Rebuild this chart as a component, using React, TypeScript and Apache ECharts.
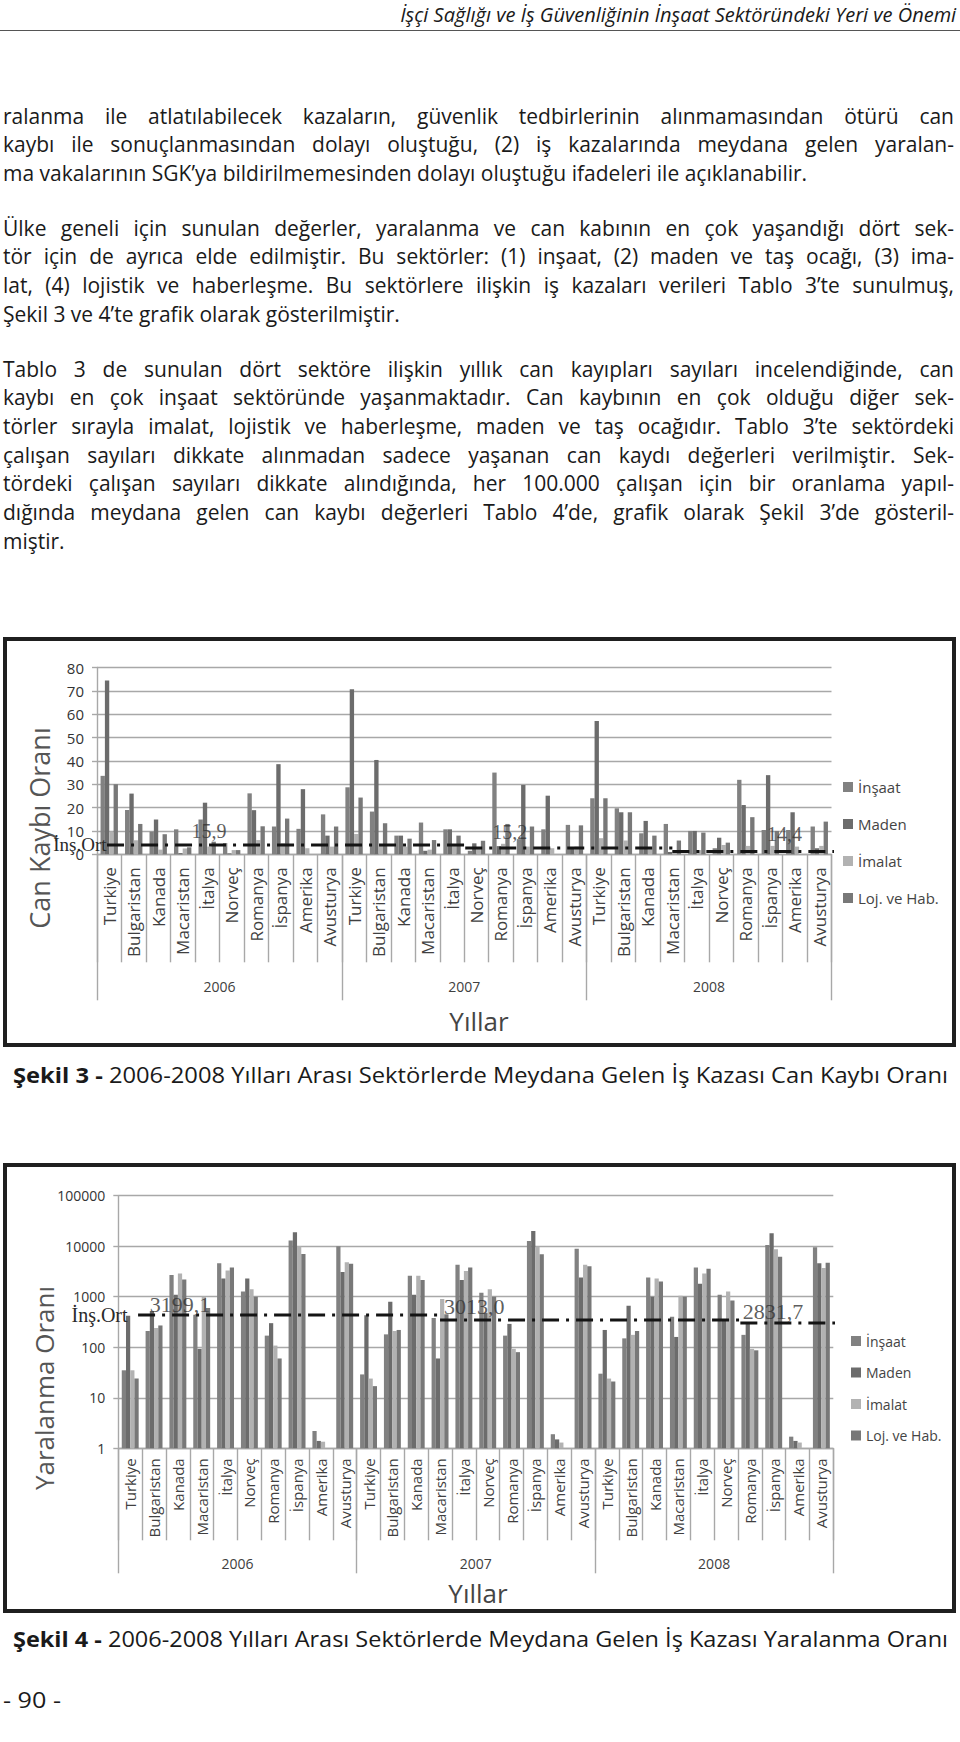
import React, { useEffect, useLayoutEffect, useRef } from "react";
import * as echarts from "echarts";

// ---------- page text ----------
const HEADER = "İşçi Sağlığı ve İş Güvenliğinin İnşaat Sektöründeki Yeri ve Önemi";
const PARAGRAPHS: string[][] = [
  [
    "ralanma ile atlatılabilecek kazaların, güvenlik tedbirlerinin alınmamasından ötürü can",
    "kaybı ile sonuçlanmasından dolayı oluştuğu, (2) iş kazalarında meydana gelen yaralan-",
    "ma vakalarının SGK’ya bildirilmemesinden dolayı oluştuğu ifadeleri ile açıklanabilir.",
  ],
  [
    "Ülke geneli için sunulan değerler, yaralanma ve can kabının en çok yaşandığı dört sek-",
    "tör için de ayrıca elde edilmiştir. Bu sektörler: (1) inşaat, (2) maden ve taş ocağı, (3) ima-",
    "lat, (4) lojistik ve haberleşme. Bu sektörlere ilişkin iş kazaları verileri Tablo 3’te sunulmuş,",
    "Şekil 3 ve 4’te grafik olarak gösterilmiştir.",
  ],
  [
    "Tablo 3 de sunulan dört sektöre ilişkin yıllık can kayıpları sayıları incelendiğinde, can",
    "kaybı en çok inşaat sektöründe yaşanmaktadır. Can kaybının en çok olduğu diğer sek-",
    "törler sırayla imalat, lojistik ve haberleşme, maden ve taş ocağıdır. Tablo 3’te sektördeki",
    "çalışan sayıları dikkate alınmadan sadece yaşanan can kaydı değerleri verilmiştir. Sek-",
    "tördeki çalışan sayıları dikkate alındığında, her 100.000 çalışan için bir oranlama yapıl-",
    "dığında meydana gelen can kaybı değerleri Tablo 4’de, grafik olarak Şekil 3’de gösteril-",
    "miştir.",
  ],
];
const CAPTION3_BOLD = "Şekil 3 -";
const CAPTION3_TEXT = " 2006-2008 Yılları Arası Sektörlerde Meydana Gelen İş Kazası Can Kaybı Oranı";
const CAPTION4_BOLD = "Şekil 4 -";
const CAPTION4_TEXT = " 2006-2008 Yılları Arası Sektörlerde Meydana Gelen İş Kazası Yaralanma Oranı";
const PAGE_NO = "- 90 -";

// ---------- chart data ----------
const YEARS = ["2006", "2007", "2008"];
const COUNTRIES = ["Turkiye", "Bulgaristan", "Kanada", "Macaristan", "İtalya", "Norveç", "Romanya", "İspanya", "Amerika", "Avusturya"];
const SECTORS = ["İnşaat", "Maden", "İmalat", "Loj. ve Hab."];
const SECTOR_COLORS = ["#818181", "#6c6c6c", "#b2b2b2", "#787878"];

// Şekil 3 – Can kaybı oranı (2006 x10, 2007 x10, 2008 x10)
const DEATH_INSAAT = [33.6, 19, 9.7, 10.7, 14.9, 4.8, 26.1, 11.9, 10.9, 17.1, 28.7, 18.3, 8, 13.6, 10.7, 1.5, 35, 6.5, 10.7, 12.6, 24, 19.7, 9, 13, 10, 2.6, 31.9, 10.4, 10.4, 11.9];
const DEATH_MADEN = [74.4, 26, 14.9, 0.5, 22.1, 0.4, 18.9, 38.6, 27.9, 8, 70.7, 40.4, 8, 1.5, 10.7, 4.7, 3.5, 29.7, 25.1, 2.5, 57.1, 18, 14.3, 1, 10, 7.1, 21.1, 33.9, 18, 2.6];
const DEATH_IMALAT = [9.7, 6, 2, 2.5, 3.3, 1.8, 6.1, 4.7, 2.6, 3.3, 8.7, 4, 3.3, 2, 4, 2.6, 4.5, 3.3, 2.6, 3.3, 6.9, 5.9, 2.6, 1.5, 1.8, 4, 3.6, 3.6, 3.3, 3.6];
const DEATH_LOJ = [30, 13, 8.6, 3, 5.4, 1.8, 12, 15.3, 0, 11.9, 24.3, 13.3, 6.7, 6.1, 8, 5.8, 13, 11.9, 0, 12.4, 24, 18, 8, 5.9, 9.3, 5, 15.9, 10, 0, 14];
const DEATH_TICKS = { min: 0, max: 80, interval: 10 };
const DEATH_AVG_LABELS = ["15,9", "15,2", "14,4"];
const DEATH_AVG_LEVELS = [4.0, 2.7, 1.2];
const DEATH_AVG_SPANS = [[0.41, 15.04], [15.04, 23.5], [23.5, 35.2]];
const DEATH_AVG_LABEL_AT = [[4.57, 9.98], [16.86, 9.55], [28.08, 8.7]];

// Şekil 4 – Yaralanma oranı (log)
const INJ_INSAAT = [35, 210, 2700, 440, 4600, 1270, 170, 13000, 2.2, 10000, 29, 180, 2600, 380, 4300, 1200, 170, 12700, 1.9, 8900, 30, 150, 2400, 400, 3800, 1090, 176, 10600, 1.7, 9500];
const INJ_MADEN = [420, 520, 1100, 93, 2300, 2300, 300, 19000, 1.4, 3100, 430, 800, 1100, 60, 2150, 480, 290, 20000, 1.5, 2400, 220, 660, 1000, 160, 1800, 360, 290, 18000, 1.4, 4600];
const INJ_IMALAT = [35, 240, 2900, 1000, 3300, 1400, 108, 10000, 1.35, 4800, 24, 210, 2600, 900, 3250, 1400, 93, 9800, 1.3, 4300, 24, 176, 2300, 1050, 2900, 1270, 93, 8700, 1.3, 3700];
const INJ_LOJ = [24, 270, 2200, 600, 3800, 1000, 60, 7000, 1, 4500, 17, 220, 2150, 450, 3800, 1000, 80, 6900, 1, 4000, 21, 210, 2000, 1000, 3600, 840, 87, 6200, 1, 4700];
const INJ_TICKS = { min: 1, max: 100000 };
const INJ_AVG_LABELS = ["3199,1", "3013,0", "2831,7"];
const INJ_AVG_LEVELS = [435, 347, 303];
const INJ_AVG_SPANS = [[0.83, 13.5], [13.5, 26.1], [26.1, 35.2]];
const INJ_AVG_LABEL_AT = [[2.59, 718], [14.93, 627], [27.47, 499]];

const FONT = "'Open Sans', 'Noto Sans', sans-serif";
const SERIF = "'Liberation Serif', 'DejaVu Serif', serif";

type Cfg = {
  values: number[][];
  log: boolean;
  grid: { left: number; top: number; width: number; height: number };
  catFont: number; catMargin: number; catTick: number;
  yearTick: number; yearMargin: number;
  yFont: number;
  legend: { left: number; top: number; gap: number; lh: number; font: number };
  box: { x: number; y: number; w: number; h: number };
  yTitle: string; yTitlePos: [number, number]; yTitleFont: number;
  xTitlePos: [number, number];
  avgLabels: string[]; avgLevels: number[]; avgSpans: number[][]; avgLabelAt: number[][];
  avgFont: number; ortFont: number; ortGap: number;
};

function buildOption(c: Cfg) {
  const cats = YEARS.flatMap(() => COUNTRIES);
  const gridLine = { color: "#a8a8a8", width: 1.4 };
  const bars = SECTORS.map((name, i) => ({
    type: "bar", name, data: c.values[i], xAxisIndex: 0, yAxisIndex: 0,
    itemStyle: { color: SECTOR_COLORS[i] },
    barGap: "0%", barCategoryGap: "29%", silent: true,
  }));
  const lines = c.avgSpans.map((span, i) => ({
    type: "line", xAxisIndex: 2, yAxisIndex: 0, clip: false, z: 6, silent: true,
    symbol: "circle", symbolSize: 1, showSymbol: true, itemStyle: { color: "rgba(0,0,0,0)" },
    lineStyle: { color: "#141414", width: 3, type: [17, 7, 3, 7] },
    data: [
      i === 0
        ? { value: [span[0], c.avgLevels[i]], label: { show: true, position: "left", distance: c.ortGap, formatter: "İnş.Ort", fontFamily: SERIF, fontSize: c.ortFont, color: "#2a2a2a" } }
        : { value: [span[0], c.avgLevels[i]] },
      { value: [span[1], c.avgLevels[i]] },
    ],
  }));
  const labels = {
    type: "scatter", xAxisIndex: 2, yAxisIndex: 0, clip: false, z: 7, silent: true,
    symbolSize: 1, itemStyle: { color: "rgba(0,0,0,0)" },
    data: c.avgLabels.map((t, i) => ({ name: t, value: c.avgLabelAt[i] })),
    label: { show: true, position: "inside", formatter: "{b}", fontFamily: SERIF, fontSize: c.avgFont, color: "#333" },
  };
  const yAxis: any = c.log
    ? { type: "log", logBase: 10, min: INJ_TICKS.min, max: INJ_TICKS.max }
    : { type: "value", min: DEATH_TICKS.min, max: DEATH_TICKS.max, interval: DEATH_TICKS.interval };
  Object.assign(yAxis, {
    axisLine: { show: true, lineStyle: gridLine },
    axisTick: { show: true, length: 5, lineStyle: gridLine },
    splitLine: { show: true, lineStyle: gridLine },
    axisLabel: { fontSize: c.yFont, color: "#333", margin: 13, fontFamily: FONT, formatter: (v: number) => String(Math.round(v)) },
  });
  return {
    animation: false,
    textStyle: { fontFamily: FONT },
    grid: { ...c.grid, containLabel: false, outerBoundsMode: "none" },
    legend: {
      orient: "vertical", left: c.legend.left, top: c.legend.top, itemGap: c.legend.gap, padding: 0,
      itemWidth: 10, itemHeight: 10, icon: "rect", data: SECTORS, selectedMode: false,
      textStyle: { fontSize: c.legend.font, lineHeight: c.legend.lh, color: "#444", fontFamily: FONT },
    },
    xAxis: [
      {
        type: "category", data: cats, position: "bottom", gridIndex: 0,
        axisLine: { show: true, lineStyle: gridLine },
        axisTick: { show: true, interval: 0, length: c.catTick, lineStyle: gridLine },
        axisLabel: { interval: 0, rotate: 90, fontSize: c.catFont, margin: c.catMargin, color: "#404040", fontFamily: FONT },
        splitLine: { show: false },
      },
      {
        type: "category", data: YEARS, position: "bottom", gridIndex: 0,
        axisLine: { show: false },
        axisTick: { show: true, interval: 0, length: c.yearTick, lineStyle: gridLine },
        axisLabel: { interval: 0, fontSize: 14, margin: c.yearMargin, color: "#404040", fontFamily: FONT },
        splitLine: { show: false },
      },
      { type: "value", min: 0, max: 30, show: false, position: "top", gridIndex: 0 },
    ],
    yAxis,
    series: [...bars, ...lines, labels],
    graphic: [
      { type: "rect", silent: true, z: 100, shape: { x: c.box.x, y: c.box.y, width: c.box.w, height: c.box.h }, style: { fill: "none", stroke: "#1f1f1f", lineWidth: 4 } },
      { type: "text", silent: true, x: c.xTitlePos[0], y: c.xTitlePos[1], style: { text: "Yıllar", fontSize: 26, fill: "#454545", align: "center", verticalAlign: "middle", fontFamily: FONT } },
      { type: "text", silent: true, x: c.yTitlePos[0], y: c.yTitlePos[1], rotation: Math.PI / 2, style: { text: c.yTitle, fontSize: c.yTitleFont, fill: "#555", align: "center", verticalAlign: "middle", fontFamily: FONT } },
    ],
  };
}

const CFG1: Cfg = {
  values: [DEATH_INSAAT, DEATH_MADEN, DEATH_IMALAT, DEATH_LOJ],
  log: false,
  grid: { left: 97, top: 37.5, width: 734.5, height: 186.8 },
  catFont: 17, catMargin: 13, catTick: 108, yearTick: 146, yearMargin: 125, yFont: 15,
  legend: { left: 843, top: 148, gap: 19, lh: 18, font: 15 },
  box: { x: 5, y: 9, w: 949, h: 406 },
  yTitle: "Can Kaybı Oranı", yTitlePos: [39, 198], yTitleFont: 27, xTitlePos: [479, 391],
  avgLabels: DEATH_AVG_LABELS, avgLevels: DEATH_AVG_LEVELS, avgSpans: DEATH_AVG_SPANS, avgLabelAt: DEATH_AVG_LABEL_AT,
  avgFont: 20, ortFont: 19, ortGap: 0,
};
const CFG2: Cfg = {
  values: [INJ_INSAAT, INJ_MADEN, INJ_IMALAT, INJ_LOJ],
  log: true,
  grid: { left: 118.3, top: 40.7, width: 715, height: 252.6 },
  catFont: 15, catMargin: 10, catTick: 92, yearTick: 125, yearMargin: 108, yFont: 14,
  legend: { left: 851, top: 178, gap: 15.5, lh: 16, font: 14 },
  box: { x: 5, y: 10, w: 949, h: 446 },
  yTitle: "Yaralanma Oranı", yTitlePos: [44, 233], yTitleFont: 26, xTitlePos: [478, 438],
  avgLabels: INJ_AVG_LABELS, avgLevels: INJ_AVG_LEVELS, avgSpans: INJ_AVG_SPANS, avgLabelAt: INJ_AVG_LABEL_AT,
  avgFont: 22, ortFont: 20, ortGap: 10,
};

function Chart({ cfg, top, height }: { cfg: Cfg; top: number; height: number }) {
  const ref = useRef<HTMLDivElement>(null);
  useEffect(() => {
    const chart = echarts.init(ref.current!, null, { renderer: "svg" });
    chart.setOption(buildOption(cfg) as any);
    return () => chart.dispose();
  }, []);
  return <div ref={ref} style={{ position: "absolute", left: 0, top, width: 960, height }} />;
}

type FitProps = {
  left: number; width: number; cy: number; lh: number; fontSize: number;
  mode: "scale" | "justify" | "plain"; align?: "left" | "right";
  style?: React.CSSProperties; children: React.ReactNode;
};
function FitText({ left, width, cy, lh, fontSize, mode, align = "left", style, children }: FitProps) {
  const ref = useRef<HTMLSpanElement>(null);
  useLayoutEffect(() => {
    const el = ref.current!;
    const apply = () => {
      el.style.transform = "none";
      el.style.wordSpacing = "0px";
      const w = el.getBoundingClientRect().width;
      if (!w) return;
      if (mode === "scale") {
        el.style.transform = `scaleX(${width / w})`;
      } else if (mode === "justify") {
        const n = ((el.textContent || "").match(/ /g) || []).length;
        if (w > width) el.style.transform = `scaleX(${width / w})`;
        else if (n > 0) el.style.wordSpacing = `${(width - w) / n}px`;
      } else if (w > width) {
        el.style.transform = `scaleX(${width / w})`;
      }
    };
    apply();
    const f: any = (document as any).fonts;
    if (f && f.ready) f.ready.then(apply);
  }, []);
  return (
    <div style={{ position: "absolute", left, top: cy - lh / 2, width, height: lh, lineHeight: lh + "px", textAlign: align, whiteSpace: "nowrap" }}>
      <span ref={ref} style={{ display: "inline-block", whiteSpace: "pre", fontSize, fontFamily: FONT, color: "#1a1a1a", transformOrigin: align === "right" ? "right center" : "left center", ...style }}>
        {children}
      </span>
    </div>
  );
}

const BODY_TOP = 115.6;
const BODY_LH = 28.67;
const PARA_GAP = 26.2;

export default function App() {
  const lines: { text: string; justify: boolean; cy: number }[] = [];
  let y = BODY_TOP;
  PARAGRAPHS.forEach((p, pi) => {
    p.forEach((t, li) => {
      lines.push({ text: t, justify: li < p.length - 1, cy: y });
      y += BODY_LH;
    });
    if (pi < PARAGRAPHS.length - 1) y += PARA_GAP;
  });
  return (
    <div style={{ position: "absolute", left: 0, top: 0, width: 960, height: 1742, overflow: "hidden", background: "#fff", fontFamily: FONT }}>
      <FitText left={400} width={556} cy={14.5} lh={26} fontSize={20} mode="scale" align="right" style={{ fontStyle: "italic" }}>
        {HEADER}
      </FitText>
      <div style={{ position: "absolute", left: 0, top: 30, width: 960, height: 1.3, background: "#555" }} />
      {lines.map((l, i) => (
        <FitText key={i} left={3} width={951} cy={l.cy} lh={28} fontSize={21} mode={l.justify ? "justify" : "plain"}>
          {l.text}
        </FitText>
      ))}
      <Chart cfg={CFG1} top={630} height={420} />
      <FitText left={13} width={935} cy={1074} lh={30} fontSize={22} mode="scale">
        <b>{CAPTION3_BOLD}</b>{CAPTION3_TEXT}
      </FitText>
      <Chart cfg={CFG2} top={1155} height={465} />
      <FitText left={13} width={935} cy={1638} lh={30} fontSize={22} mode="scale">
        <b>{CAPTION4_BOLD}</b>{CAPTION4_TEXT}
      </FitText>
      <FitText left={3} width={58} cy={1700} lh={28} fontSize={21} mode="scale">
        {PAGE_NO}
      </FitText>
    </div>
  );
}
